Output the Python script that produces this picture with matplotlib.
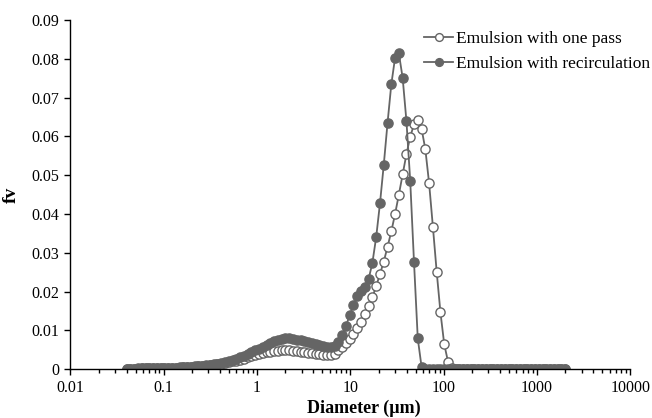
import numpy as np
import matplotlib
matplotlib.use("Agg")
import matplotlib.pyplot as plt
from matplotlib.ticker import FixedLocator, NullFormatter, LogLocator

plt.rcParams['font.family'] = ['Liberation Serif', 'DejaVu Serif']

# channel sizes (um), 0.04 - 2000
diam = [0.04000, 0.04391, 0.04821, 0.05292, 0.05810, 0.06378, 0.07002, 0.07687,
        0.08439, 0.09265, 0.1017, 0.1117, 0.1226, 0.1346, 0.1477, 0.1622,
        0.1780, 0.1954, 0.2145, 0.2355, 0.2585, 0.2838, 0.3115, 0.3420,
        0.3754, 0.4121, 0.4524, 0.4966, 0.5452, 0.5985, 0.6570, 0.7213,
        0.7915, 0.8689, 0.9535, 1.047, 1.149, 1.261, 1.385, 1.520,
        1.669, 1.832, 2.011, 2.208, 2.424, 2.661, 2.921, 3.207,
        3.520, 3.864, 4.242, 4.657, 5.112, 5.612, 6.161, 6.763,
        7.425, 8.151, 8.948, 9.819, 10.78, 11.83, 12.99, 14.26,
        15.65, 17.18, 18.86, 20.71, 22.73, 24.95, 27.39, 30.07,
        33.01, 36.24, 39.78, 43.67, 47.94, 52.62, 57.77, 63.42,
        69.62, 76.42, 83.90, 92.10, 101.1, 111.0, 121.8, 133.7,
        146.8, 161.2, 176.9, 194.2, 213.2, 234.1, 256.9, 282.1,
        309.7, 340.0, 373.2, 409.7, 449.7, 493.7, 542.0, 595.0,
        653.2, 717.1, 787.2, 864.2, 948.7, 1041, 1143, 1255,
        1377, 1512, 1660, 1822, 2000]

one_pass = [0.0001, 0.0001, 0.0001, 0.0001, 0.0002, 0.0002, 0.0002, 0.0002,
            0.0003, 0.0003, 0.0003, 0.0003, 0.0004, 0.0004, 0.0004, 0.0005,
            0.0005, 0.0006, 0.0006, 0.0007, 0.0008, 0.0009, 0.0010, 0.0011,
            0.0012, 0.0014, 0.0016, 0.0018, 0.0020, 0.0022, 0.0024, 0.0027,
            0.0030, 0.0033, 0.0036, 0.0038, 0.0041, 0.0043, 0.0045, 0.0046,
            0.0047, 0.0048, 0.0048, 0.0048, 0.0047, 0.0046, 0.0045, 0.0044,
            0.0042, 0.0041, 0.0039, 0.0038, 0.0037, 0.0036, 0.0036, 0.0040,
            0.0049, 0.0058, 0.0066, 0.0077, 0.0090, 0.0107, 0.0122, 0.0141,
            0.0162, 0.0185, 0.0214, 0.0245, 0.0277, 0.0315, 0.0355, 0.0400,
            0.0450, 0.0502, 0.0554, 0.0599, 0.0631, 0.0642, 0.0620, 0.0567,
            0.0479, 0.0367, 0.0251, 0.0146, 0.0064, 0.0019, 0.0002, 0.0,
            0.0, 0.0, 0.0, 0.0, 0.0, 0.0, 0.0, 0.0,
            0.0, 0.0, 0.0, 0.0, 0.0, 0.0, 0.0, 0.0,
            0.0, 0.0, 0.0, 0.0, 0.0, 0.0, 0.0, 0.0,
            0.0, 0.0, 0.0, 0.0, 0.0]

recirc = [0.0001, 0.0001, 0.0001, 0.0002, 0.0002, 0.0002, 0.0002, 0.0003,
          0.0003, 0.0003, 0.0003, 0.0004, 0.0004, 0.0004, 0.0005, 0.0005,
          0.0006, 0.0006, 0.0007, 0.0008, 0.0009, 0.0010, 0.0011, 0.0012,
          0.0014, 0.0016, 0.0018, 0.0020, 0.0023, 0.0026, 0.0030, 0.0034,
          0.0038, 0.0043, 0.0048, 0.0053, 0.0058, 0.0063, 0.0068, 0.0072,
          0.0075, 0.0078, 0.0079, 0.0079, 0.0078, 0.0076, 0.0074, 0.0072,
          0.0070, 0.0067, 0.0064, 0.0062, 0.0059, 0.0057, 0.0056, 0.0059,
          0.0069, 0.0088, 0.0111, 0.0139, 0.0165, 0.0188, 0.0201, 0.0211,
          0.0232, 0.0274, 0.0340, 0.0427, 0.0526, 0.0634, 0.0734, 0.0803,
          0.0814, 0.0751, 0.0640, 0.0486, 0.0277, 0.0079, 0.0006, 0.0,
          0.0, 0.0, 0.0, 0.0, 0.0, 0.0, 0.0, 0.0,
          0.0, 0.0, 0.0, 0.0, 0.0, 0.0, 0.0, 0.0,
          0.0, 0.0, 0.0, 0.0, 0.0, 0.0, 0.0, 0.0,
          0.0, 0.0, 0.0, 0.0, 0.0, 0.0, 0.0, 0.0,
          0.0, 0.0, 0.0, 0.0, 0.0]

x_ticks = [0.01, 0.1, 1, 10, 100, 1000, 10000]
x_labels = ["0.01", "0.1", "1", "10", "100", "1000", "10000"]
y_ticks = [0, 0.01, 0.02, 0.03, 0.04, 0.05, 0.06, 0.07, 0.08, 0.09]
y_labels = ["0", "0.01", "0.02", "0.03", "0.04", "0.05", "0.06", "0.07", "0.08", "0.09"]

gris = '#656565'

fig = plt.figure(figsize=(6.52, 4.18), dpi=100)
ax = fig.add_axes([0.108, 0.117, 0.859, 0.835])

ax.plot(diam, one_pass, color=gris, lw=1.3, marker='o', ms=6.6,
        mfc='white', mec=gris, mew=1.0, label='Emulsion with one pass')
ax.plot(diam, recirc, color=gris, lw=1.3, marker='o', ms=6.6,
        mfc=gris, mec=gris, label='Emulsion with recirculation')

ax.set_xscale('log')
ax.set_xlim(0.01, 10000)
ax.set_ylim(0, 0.09)
ax.xaxis.set_major_locator(FixedLocator(x_ticks))
ax.set_xticklabels(x_labels)
ax.xaxis.set_minor_locator(LogLocator(base=10, subs=np.arange(2, 10), numticks=20))
ax.xaxis.set_minor_formatter(NullFormatter())
ax.set_yticks(y_ticks)
ax.set_yticklabels(y_labels)

for s in ['top', 'right']:
    ax.spines[s].set_visible(False)
for s in ['left', 'bottom']:
    ax.spines[s].set_linewidth(1.0)
ax.tick_params(which='major', direction='out', length=4, width=1, labelsize=11.5, pad=4)
ax.tick_params(which='minor', direction='out', length=3, width=1)

ax.set_xlabel('Diameter (µm)', fontsize=13, fontweight='bold')
ax.xaxis.set_label_coords(0.523, -0.088)
ax.set_ylabel('fv', fontsize=14, fontweight='bold', labelpad=8)

ax.legend(loc='upper right', bbox_to_anchor=(1.035, 0.969), frameon=False,
          fontsize=12.5, handlelength=1.7, handletextpad=0.15, labelspacing=0.52,
          borderpad=0, borderaxespad=0, markerscale=0.85)

fig.savefig('out.png', dpi=100)
